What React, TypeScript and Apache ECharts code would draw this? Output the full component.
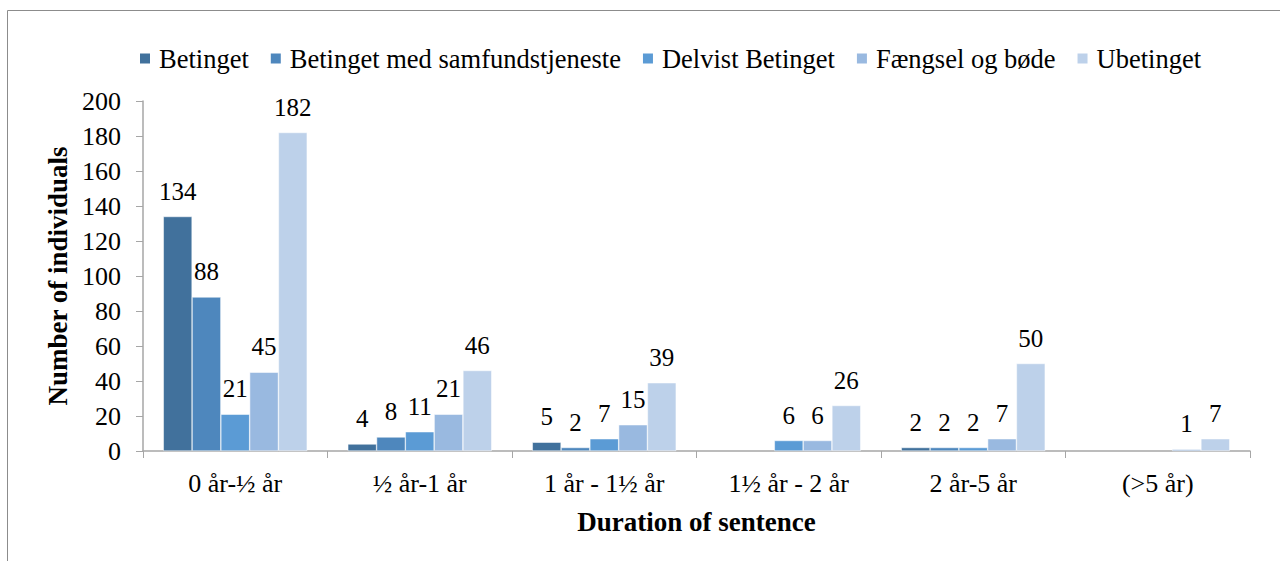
import React, { useEffect, useRef } from "react";
import * as echarts from "echarts";

const categories = ["0 år-½ år", "½ år-1 år", "1 år - 1½ år", "1½ år - 2 år", "2 år-5 år", "(>5 år)"];
const seriesNames = ["Betinget", "Betinget med samfundstjeneste", "Delvist Betinget", "Fængsel og bøde", "Ubetinget"];
const betinget = [134, 4, 5, null, 2, null];
const betingetSamfund = [88, 8, 2, null, 2, null];
const delvist = [21, 11, 7, 6, 2, null];
const faengsel = [45, 21, 15, 6, 7, 1];
const ubetinget = [182, 46, 39, 26, 50, 7];
const colors = ["#41719C", "#4E87BD", "#5B9BD5", "#99B9E0", "#BDD1EA"];

export default function App() {
  const ref = useRef<HTMLDivElement>(null);
  useEffect(() => {
    if (!ref.current) return;
    const chart = echarts.init(ref.current, undefined, { renderer: "svg" });
    const font = "'Liberation Serif', 'Times New Roman', serif";
    const values = [betinget, betingetSamfund, delvist, faengsel, ubetinget];
    chart.setOption({
      animation: false,
      textStyle: { fontFamily: font },
      color: colors,
      graphic: [
        {
          type: "rect",
          shape: { x: 7.5, y: 10.5, width: 1400, height: 700 },
          style: { fill: "none", stroke: "#8c8c8c", lineWidth: 1 },
          silent: true,
          z: -1,
        },
      ],
      legend: {
        left: 133,
        top: 40,
        itemWidth: 12,
        itemHeight: 12,
        itemGap: 20,
        icon: "rect",
        textStyle: { fontFamily: font, fontSize: 26.5, fontWeight: "normal", color: "#000", padding: [0, 0, 0, 3] },
        data: seriesNames,
      },
      grid: { left: 143, right: 30, top: 101, bottom: 110 },
      xAxis: {
        type: "category",
        data: categories,
        name: "Duration of sentence",
        nameLocation: "middle",
        nameGap: 57,
        nameTextStyle: { fontFamily: font, fontSize: 27, fontWeight: "bold", color: "#000" },
        axisLine: { lineStyle: { color: "#a6a6a6", width: 1.5 } },
        axisTick: { show: true, length: 7, lineStyle: { color: "#a6a6a6" } },
        axisLabel: { fontFamily: font, fontSize: 26, fontWeight: "normal", color: "#000", margin: 19 },
      },
      yAxis: {
        type: "value",
        min: 0,
        max: 200,
        interval: 20,
        name: "Number of individuals",
        nameLocation: "middle",
        nameGap: 72,
        nameTextStyle: { fontFamily: font, fontSize: 27, fontWeight: "bold", color: "#000" },
        splitLine: { show: false },
        axisLine: { show: true, lineStyle: { color: "#a6a6a6", width: 1.5 } },
        axisTick: { show: true, length: 7, lineStyle: { color: "#a6a6a6" } },
        axisLabel: { fontFamily: font, fontSize: 26, fontWeight: "normal", color: "#000", margin: 22 },
      },
      series: seriesNames.map((name, i) => ({
        name,
        type: "bar",
        data: values[i],
        barGap: "0%",
        barCategoryGap: "22%",
        itemStyle: { color: colors[i], borderColor: "#ffffff", borderWidth: 0.5 },
        label: {
          show: true,
          position: "top",
          distance: 13,
          fontFamily: font,
          fontSize: 25,
          fontWeight: "normal",
          color: "#000",
        },
      })),
    });
    return () => chart.dispose();
  }, []);
  return <div ref={ref} style={{ position: "fixed", left: 0, top: 0, width: 1280, height: 561, background: "#fff" }} />;
}
